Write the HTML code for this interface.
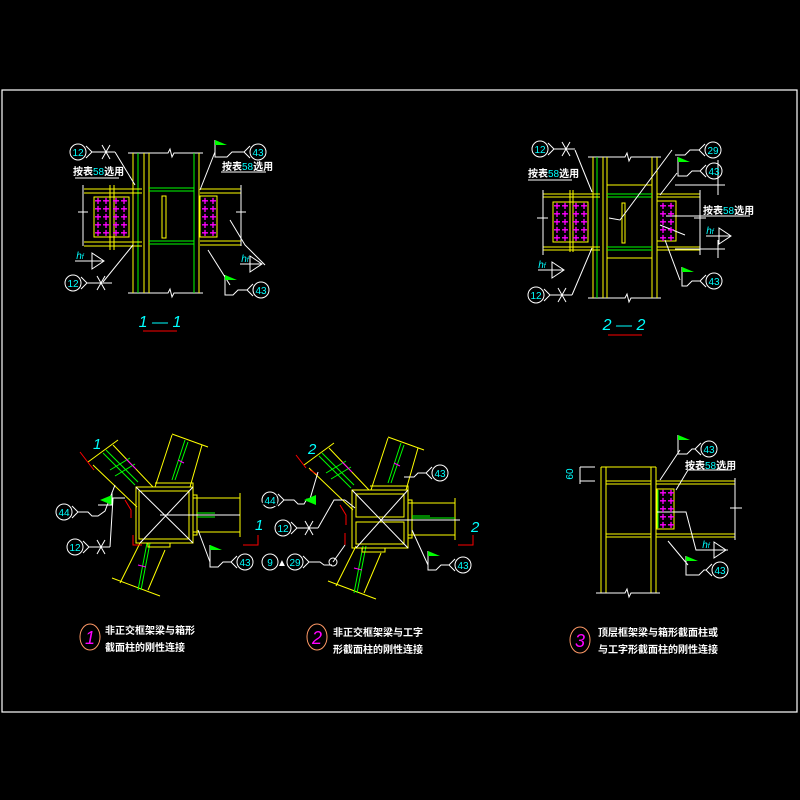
<!DOCTYPE html>
<html><head><meta charset="utf-8"><style>
html,body{margin:0;padding:0;background:#000;}
svg{display:block;}
text{font-family:"Liberation Sans","Noto Sans CJK SC",sans-serif;}
.c{fill:#00ffff;font-size:10px;text-anchor:middle;}
.t{fill:#fff;font-size:10px;font-weight:bold;}
.p{fill:#f0f;font-size:12px;font-weight:bold;text-anchor:middle;}
</style></head><body>
<svg width="800" height="800" viewBox="0 0 800 800" xmlns="http://www.w3.org/2000/svg">
<rect width="800" height="800" fill="#000"/>
<rect x="2" y="90" width="795" height="622" fill="none" stroke="#fff" stroke-width="1.2"/>

<!-- ===== 1-1 ===== -->
<g fill="none" stroke-width="1">
<path d="M128 153H168l2-4 2 8 2-4H203M128 293H168l2-4 2 8 2-4H203" stroke="#fff"/>
<path d="M133 153V293M144 153V293M149 153V293M199 153V293" stroke="#ff0"/>
<path d="M138 153V293M194 153V293" stroke="#0f0"/>
<path d="M149 188H194M149 191H194M149 241H194M149 244H194" stroke="#0f0"/>
<rect x="162" y="196" width="4" height="42" stroke="#ff0"/>
<path d="M84 189H142M84 193H142M84 242H142M84 246H142M110 185V250M114 185V250M200 189H241M200 193H241M200 241H241M200 245H241" stroke="#ff0"/>
<path d="M83 185V246M241 185V246M78 212H88M236 212H246" stroke="#fff"/>
<rect x="94" y="197" width="35" height="40" stroke="#ff0"/>
<rect x="200" y="196" width="17" height="41" stroke="#ff0"/>
<path d="M75 178H119M221 172H266" stroke="#fff"/>
<path d="M115 152L135 185M133 245L103 282M215 152L200 190M230 220L245 245L265 265M208 250L230 285" stroke="#fff"/>
</g>
<g class="p">
<text x="98" y="205">+</text><text x="106" y="205">+</text><text x="116" y="205">+</text><text x="124" y="205">+</text>
<text x="98" y="213">+</text><text x="106" y="213">+</text><text x="116" y="213">+</text><text x="124" y="213">+</text>
<text x="98" y="221">+</text><text x="106" y="221">+</text><text x="116" y="221">+</text><text x="124" y="221">+</text>
<text x="98" y="229">+</text><text x="106" y="229">+</text><text x="116" y="229">+</text><text x="124" y="229">+</text>
<text x="98" y="237">+</text><text x="106" y="237">+</text><text x="116" y="237">+</text><text x="124" y="237">+</text>
<text x="205" y="205">+</text><text x="213" y="205">+</text><text x="205" y="213">+</text><text x="213" y="213">+</text>
<text x="205" y="221">+</text><text x="213" y="221">+</text><text x="205" y="229">+</text><text x="213" y="229">+</text>
<text x="205" y="237">+</text><text x="213" y="237">+</text>
</g>
<g stroke="#fff" fill="none">
<circle cx="78" cy="152" r="8"/><path d="M86 146l6 6-6 6M92 152H115M102 145l8 14M102 159l8-14"/>
<circle cx="73" cy="283" r="8"/><path d="M81 277l6 6-6 6M87 283H112M97 276l8 14M97 290l8-14"/>
<circle cx="258" cy="152" r="8"/><path d="M250 146l-6 6 6 6M244 152H232l-5 5H215V140"/>
<circle cx="261" cy="290" r="8"/><path d="M253 284l-6 6 6 6M247 290H238l-5 5H225V275"/>
<path d="M92 253l12 8-12 8zM104 261H75M250 256l12 8-12 8zM262 264H240"/>
</g>
<path d="M215 140l12 5h-12z M225 275l12 5h-12z" fill="#0f0"/>
<g class="c"><text x="78" y="156">12</text><text x="73" y="287">12</text><text x="258" y="156">43</text><text x="261" y="294">43</text>
<text x="80" y="259" font-style="italic">h<tspan font-size="7">f</tspan></text><text x="245" y="262" font-style="italic">h<tspan font-size="7">f</tspan></text></g>
<text class="t" x="73" y="175">按表<tspan fill="#0ff" font-weight="normal">58</tspan>选用</text>
<text class="t" x="222" y="170">按表<tspan fill="#0ff" font-weight="normal">58</tspan>选用</text>
<text x="160" y="327" fill="#0ff" font-size="16" font-style="italic" text-anchor="middle">1 — 1</text>
<path d="M143 331H177" stroke="#f00"/>

<!-- ===== 2-2 ===== -->
<g fill="none" stroke-width="1">
<path d="M588 157H625l2-4 2 8 2-4H661M588 298H625l2-4 2 8 2-4H661" stroke="#fff"/>
<path d="M593 157V298M603 157V298M607 157V298M652 157V298M657 157V298" stroke="#ff0"/>
<path d="M597 157V298" stroke="#0f0"/>
<path d="M607 185H652M607 258H652" stroke="#ff0"/>
<path d="M607 194H652M607 197H652M607 247H652M607 250H652" stroke="#0f0"/>
<rect x="622" y="203" width="3" height="40" stroke="#ff0"/>
<path d="M543 194H600M543 197H600M543 247H600M543 250H600M570 190V252M573 190V252M657 194H700M657 197H700M657 247H700M657 250H700" stroke="#ff0"/>
<path d="M543 190V255M700 190V255M537 218H548M694 218H706" stroke="#fff"/>
<rect x="553" y="202" width="35" height="40" stroke="#ff0"/>
<rect x="657" y="201" width="19" height="40" stroke="#ff0"/>
<path d="M528 180H572M666 216H750M675 185H725M675 249H725M718 160V195M718 240V258" stroke="#fff"/>
<path d="M575 150L592 192M592 248L572 295M672 150L620 220L609 218M677 173L660 195M660 225L685 235M665 240L680 280" stroke="#fff"/>
</g>
<g class="p">
<text x="557" y="210">+</text><text x="565" y="210">+</text><text x="576" y="210">+</text><text x="584" y="210">+</text>
<text x="557" y="218">+</text><text x="565" y="218">+</text><text x="576" y="218">+</text><text x="584" y="218">+</text>
<text x="557" y="226">+</text><text x="565" y="226">+</text><text x="576" y="226">+</text><text x="584" y="226">+</text>
<text x="557" y="234">+</text><text x="565" y="234">+</text><text x="576" y="234">+</text><text x="584" y="234">+</text>
<text x="557" y="242">+</text><text x="565" y="242">+</text><text x="576" y="242">+</text><text x="584" y="242">+</text>
<text x="663" y="210">+</text><text x="671" y="210">+</text><text x="663" y="218">+</text><text x="671" y="218">+</text>
<text x="663" y="226">+</text><text x="671" y="226">+</text><text x="663" y="234">+</text><text x="671" y="234">+</text>
<text x="663" y="242">+</text><text x="671" y="242">+</text>
</g>
<g stroke="#fff" fill="none">
<circle cx="540" cy="149" r="8"/><path d="M548 143l6 6-6 6M554 149H575M562 142l8 14M562 156l8-14"/>
<circle cx="536" cy="295" r="8"/><path d="M544 289l6 6-6 6M550 295H572M558 288l8 14M558 302l8-14"/>
<circle cx="713" cy="150" r="8"/><path d="M705 144l-6 6 6 6M699 150H690l-5 5H675"/>
<circle cx="714" cy="171" r="8"/><path d="M706 165l-6 6 6 6M700 171H692l-5 5H678V157"/>
<circle cx="714" cy="281" r="8"/><path d="M706 275l-6 6 6 6M700 281H692l-5 5H682V267"/>
<path d="M552 262l12 8-12 8zM564 270H538M719 228l12 8-12 8zM731 236H706"/>
</g>
<path d="M678 157l12 5h-12z M682 267l12 5h-12z" fill="#0f0"/>
<g class="c"><text x="540" y="153">12</text><text x="536" y="299">12</text><text x="713" y="154">29</text><text x="714" y="175">43</text><text x="714" y="285">43</text>
<text x="542" y="268" font-style="italic">h<tspan font-size="7">f</tspan></text><text x="710" y="234" font-style="italic">h<tspan font-size="7">f</tspan></text></g>
<text class="t" x="528" y="177">按表<tspan fill="#0ff" font-weight="normal">58</tspan>选用</text>
<text class="t" x="703" y="214">按表<tspan fill="#0ff" font-weight="normal">58</tspan>选用</text>
<text x="624" y="330" fill="#0ff" font-size="16" font-style="italic" text-anchor="middle">2 — 2</text>
<path d="M608 335H642" stroke="#f00"/>

<!-- ===== Detail 1 ===== -->
<g id="braces" fill="none">
<path d="M172 435L155 487M202 445L190 487M172 434L208 447M120 583L140 543M165 550L148 590M112 578L160 596" stroke="#ff0"/>
<path d="M188 442L175 480M185 440L172 480M147 543L138 590M150 543L141 590" stroke="#0f0"/>
<path d="M113 445L153 487M93 465L137 507M88 462L118 440" stroke="#ff0"/>
<path d="M103 453L135 485M106 450L138 482M110 470L130 458M115 476L135 464" stroke="#0f0"/>
<path d="M126 459l10 10M178 460l6 3M138 565l8 2" stroke="#f0f"/>
</g>
<g fill="none">
<path d="M136 487H193V543H136ZM139 491H189V539H139ZM155 483H193V487M148 543V547H170V543" stroke="#ff0"/>
<path d="M193 498H240M193 532H240M193 495H197V535H193M240 493V537" stroke="#ff0"/>
<path d="M197 515H240M197 513H215M197 517H215" stroke="#0f0"/>
<path d="M136 487L193 543M193 487L140 543M160 515H240" stroke="#fff"/>
<path d="M80 452L90 465M90 465L94 470M125 500L131 510V518M133 535V545H142M243 545H258V535" stroke="#f00"/>
</g>
<g stroke="#fff" fill="none">
<circle cx="64" cy="512" r="8"/><path d="M72 506l6 6-6 6M78 512H88l4 4H98l7-5L115 485"/>
<circle cx="75" cy="547" r="8"/><path d="M83 541l6 6-6 6M89 547H110M97 540l8 14M97 554l8-14M110 547L113 498H125"/>
<circle cx="245" cy="562" r="8"/><path d="M237 556l-6 6 6 6M231 562H223l-5 5H210V545M210 562L198 530"/>
</g>
<path d="M100 500l12-5v10z M210 545l12 5h-12z" fill="#0f0"/>
<path d="M98 505H112V492" stroke="#fff" fill="none"/>
<g class="c"><text x="64" y="516">44</text><text x="75" y="551">12</text><text x="245" y="566">43</text></g>
<text x="93" y="449" fill="#0ff" font-size="15" font-style="italic">1</text>
<text x="255" y="530" fill="#0ff" font-size="15" font-style="italic">1</text>

<!-- ===== Detail 2 ===== -->
<g transform="translate(216,3)">
<use href="#braces"/>
</g>
<g fill="none">
<path d="M352 490H408V548H352ZM356 494H404V517H356ZM356 522H404V544H356ZM370 486H408V490M362 548V552H385V548" stroke="#ff0"/>
<path d="M408 503H455M408 535H455M408 500H412V538H408M455 498V540" stroke="#ff0"/>
<path d="M412 518H455M412 516H430M412 520H430" stroke="#0f0"/>
<path d="M352 490L408 548M408 490L356 548M380 520H460M355 508L345 500" stroke="#fff"/>
<path d="M296 455L306 468M310 470L318 475M340 505L346 515V525M345 533V545M458 545H473V535" stroke="#f00"/>
</g>
<g stroke="#fff" fill="none">
<circle cx="270" cy="500" r="8"/><path d="M278 494l6 6-6 6M284 500H294l4 4H304l3-5H310L318 472"/>
<circle cx="283" cy="528" r="8"/><path d="M291 522l6 6-6 6M297 528H318M305 521l8 14M305 535l8-14M318 528L334 500H345"/>
<circle cx="270" cy="562" r="8"/><circle cx="295" cy="562" r="8"/><path d="M303 556l6 6-6 6M309 562H320l4 3H332M333 562L345 545"/><circle cx="333" cy="562" r="4"/>
<circle cx="440" cy="473" r="8"/><path d="M432 467l-6 6 6 6M426 473H418l-4 4H404"/>
<circle cx="463" cy="565" r="8"/><path d="M455 559l-6 6 6 6M449 565H441l-5 5H428V551M428 565L412 530"/>
</g>
<path d="M304 500l12-5v10z M428 551l12 5h-12z" fill="#0f0"/>
<g class="c"><text x="270" y="504">9</text><text x="282" y="566" fill="#fff">▲</text><text x="270" y="566">9</text><text x="295" y="566">29</text><text x="440" y="477">43</text><text x="463" y="569">43</text></g>
<g class="c"><text x="270" y="504" fill="#000" stroke="#000" stroke-width="4">44</text><text x="270" y="504">44</text><text x="283" y="532">12</text></g>
<text x="308" y="454" fill="#0ff" font-size="15" font-style="italic">2</text>
<text x="471" y="532" fill="#0ff" font-size="15" font-style="italic">2</text>

<!-- ===== Detail 3 ===== -->
<g fill="none">
<path d="M601 467V593M606 467V593M651 467V593M656 467V593M601 467H656" stroke="#ff0"/>
<path d="M656 481H735M656 484H735M606 481H651M606 484H651M656 534H735M656 537H735M606 534H651M606 537H651" stroke="#ff0"/>
<rect x="657" y="489" width="17" height="40" stroke="#ff0"/>
<path d="M658 490V528" stroke="#0f0"/>
<path d="M596 593H625l2-4 2 8 2-4H660M735 478V540M730 508H742M580 467H595M580 481H595M580 467V484M657 512H686L696 550H728M668 541L688 565M660 480L680 450M676 490L688 470H732" stroke="#fff"/>
</g>
<g class="p">
<text x="663" y="497">+</text><text x="671" y="497">+</text><text x="663" y="505">+</text><text x="671" y="505">+</text>
<text x="663" y="513">+</text><text x="671" y="513">+</text><text x="663" y="521">+</text><text x="671" y="521">+</text>
<text x="663" y="529">+</text><text x="671" y="529">+</text>
</g>
<g stroke="#fff" fill="none">
<circle cx="709" cy="449" r="8"/><path d="M701 443l-6 6 6 6M695 449H692l-5 5H678V435"/>
<circle cx="720" cy="570" r="8"/><path d="M712 564l-6 6 6 6M706 570H704l-5 5H686V556"/>
<path d="M714 542l12 8-12 8z"/>
</g>
<path d="M678 435l12 5h-12z M686 556l12 5h-12z" fill="#0f0"/>
<g class="c"><text x="709" y="453">43</text><text x="720" y="574">43</text><text x="706" y="548" font-style="italic">h<tspan font-size="7">f</tspan></text></g>
<text x="573" y="474" fill="#0ff" font-size="10" transform="rotate(-90 573 474)" text-anchor="middle">60</text>
<text class="t" x="685" y="469">按表<tspan fill="#0ff" font-weight="normal">58</tspan>选用</text>

<!-- ===== Titles ===== -->
<g fill="none" stroke="#f96"><ellipse cx="90" cy="637" rx="10" ry="13"/><ellipse cx="317" cy="637" rx="10" ry="13"/><ellipse cx="580" cy="640" rx="10" ry="13"/></g>
<g fill="#f0f" font-size="18" font-style="italic" text-anchor="middle"><text x="90" y="644">1</text><text x="317" y="644">2</text><text x="580" y="647">3</text></g>
<g class="t" font-size="11">
<text x="105" y="634">非正交框架梁与箱形</text><text x="105" y="651">截面柱的刚性连接</text>
<text x="333" y="636">非正交框架梁与工字</text><text x="333" y="653">形截面柱的刚性连接</text>
<text x="598" y="636">顶层框架梁与箱形截面柱或</text><text x="598" y="653">与工字形截面柱的刚性连接</text>
</g>
</svg>
</body></html>
